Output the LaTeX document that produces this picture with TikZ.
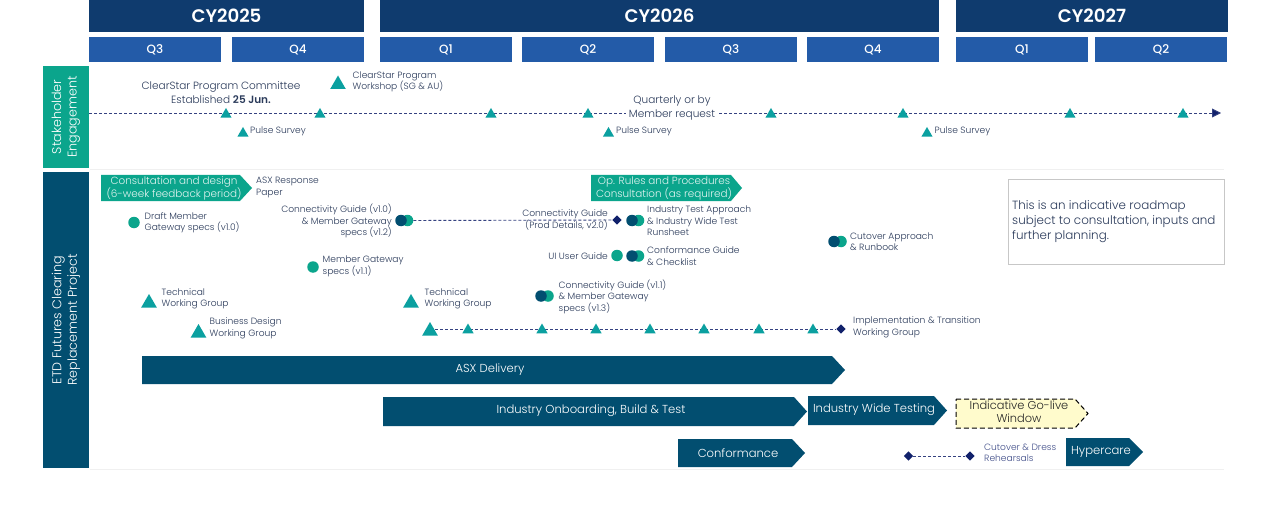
\documentclass[tikz,border=0pt]{standalone}
\usepackage{fontspec}
\setmainfont{Poppins}[UprightFont=* Light,BoldFont=* SemiBold]
\newfontfamily\headfont{Poppins}[UprightFont=* Medium,BoldFont=* SemiBold]
\usetikzlibrary{shapes.geometric,arrows.meta}
\definecolor{cyblue}{HTML}{0F3B6E}
\definecolor{qblue}{HTML}{235BA8}
\definecolor{tealg}{HTML}{0BA58C}
\definecolor{tealt}{HTML}{0BA0A0}
\definecolor{petrol}{HTML}{024E70}
\definecolor{inkc}{HTML}{2A3A5A}
\definecolor{navyd}{HTML}{11216B}
\definecolor{golive}{HTML}{FFFBCC}
\tikzset{
 x=1pt,y=-1pt,
 cybox/.style={fill=cyblue,text=white,font=\headfont\fontsize{18.2}{20}\selectfont\bfseries,inner sep=0},
 qbox/.style={fill=qblue,text=white,font=\headfont\fontsize{12}{12}\selectfont,inner sep=0},
 sidebox/.style={text=white,font=\fontsize{12.7}{15.5}\selectfont,align=center,inner sep=0,rotate=90},
 lab/.style={text=inkc,font=\fontsize{9.1}{11.6}\selectfont,align=left,anchor=west,inner sep=0,yshift=-.7pt},
 labr/.style={text=inkc,font=\fontsize{9.1}{11.6}\selectfont,align=right,anchor=east,inner sep=0,yshift=-.7pt},
 labc/.style={text=inkc,font=\fontsize{10.5}{13.3}\selectfont,align=center,inner sep=0},
 tri/.style={regular polygon,regular polygon sides=3,fill=tealt,inner sep=0,minimum size=#1},
 tri/.default=13,
 bigtri/.style={tri=18},
 dot/.style={circle,fill=tealg,inner sep=0,minimum size=11.5},
 dotd/.style={circle,fill=petrol,inner sep=0,minimum size=11.5},
 dia/.style={diamond,fill=navyd,inner sep=0,minimum size=9.5},
 dline/.style={draw=navyd!85!white,line width=.9pt,dash pattern=on 3pt off 2pt},
 barlab/.style={text=white,font=\fontsize{11.6}{13}\selectfont,align=center,inner sep=0,yshift=-1pt},
 conlab/.style={text=white!88!tealg,font=\fontsize{10.4}{13}\selectfont,align=center,inner sep=0,yshift=-1.5pt},
}
% name, x1, shoulder, tip, y1, y2, path options
\newcommand{\bararrow}[7]{\path[#7] (#2,#5) -- (#3,#5) -- (#4,{(#5+#6)/2}) -- (#3,#6) -- (#2,#6) -- cycle;
 \coordinate (#1) at ({(#2+#3)/2},{(#5+#6)/2});}
\newcommand{\rectnode}[7]{\node[#6,minimum width=#4-#2,minimum height=#5-#3] (#1) at ({(#2+#4)/2},{(#3+#5)/2}) {#7};}
\begin{document}
\begin{tikzpicture}
\useasboundingbox[fill=white] (0,0) rectangle (1280,516);
% headers
\rectnode{cya}{89}{0}{364}{32}{cybox}{CY2025}
\rectnode{cyb}{380}{0}{939}{32}{cybox}{CY2026}
\rectnode{cyc}{956}{0}{1228}{32}{cybox}{CY2027}
\rectnode{qa}{89}{37}{221}{62}{qbox}{Q3}
\rectnode{qb}{232}{37}{364}{62}{qbox}{Q4}
\rectnode{qc}{380}{37}{512}{62}{qbox}{Q1}
\rectnode{qd}{522}{37}{654}{62}{qbox}{Q2}
\rectnode{qe}{665}{37}{797}{62}{qbox}{Q3}
\rectnode{qf}{807}{37}{939}{62}{qbox}{Q4}
\rectnode{qg}{956}{37}{1088}{62}{qbox}{Q1}
\rectnode{qh}{1095}{37}{1227}{62}{qbox}{Q2}
% side boxes
\fill[tealg] (43,66) rectangle (89,168);
\fill[petrol] (43,172) rectangle (89,468);
\node[sidebox] (sideA) at (66,117) {Stakeholder\\Engagement};
\node[sidebox] (sideB) at (66,320) {ETD Futures Clearing\\Replacement Project};
% separators
\draw[black!6,line width=1.2pt] (90,169.5) -- (1224,169.5);
\draw[black!6,line width=1.2pt] (90,469.5) -- (1224,469.5);
% stakeholder line
\coordinate (sA) at (89,113);
\coordinate (sB) at (1221,113);
\draw[dline,-{Triangle[length=9pt,width=9pt,fill=navyd]}] (sA) -- (sB);
\node[labc,fill=white,inner xsep=3pt,inner ysep=0pt] (quarterly) at (672,108) {Quarterly or by\\Member request};
\foreach \n/\x in {a/226,b/320,c/491,d/588,e/771,f/903,g/1070,h/1183}
  \node[tri] (st\n) at (\x,114.5) {};
\node[labc] (committee) at (221,92.5) {ClearStar Program Committee\\Established \textbf{25 Jun.}};
\node[bigtri] (wsT) at (338,84.5) {};
\node[lab] (wsL) at (352.5,81) {ClearStar Program\\Workshop (SG \& AU)};
\node[tri] (psA) at (243,133.5) {};
\node[lab] (psAl) at (250,131) {Pulse Survey};
\node[tri] (psB) at (608.5,133.5) {};
\node[lab] (psBl) at (616,131) {Pulse Survey};
\node[tri] (psC) at (927,133.5) {};
\node[lab] (psCl) at (934.5,131) {Pulse Survey};
% consultation arrows
\bararrow{conA}{101}{240}{252}{175}{201}{fill=tealg}
\node[conlab] (conAl) at (174,187) {Consultation and design\\(6-week feedback period)};
\bararrow{conB}{591}{731}{742}{175}{201}{fill=tealg}
\node[conlab] (conBl) at (664,187) {Op. Rules and Procedures\\Consultation (as required)};
\node[lab] (asx) at (256,186.5) {ASX Response\\Paper};
% deliverables
\node[dot] (draft) at (134,222.5) {};
\node[lab] (draftl) at (144.5,222) {Draft Member\\Gateway specs (v1.0)};
\node[labr] (cg10) at (392,220.5) {Connectivity Guide (v1.0)\\\& Member Gateway\\specs (v1.2)};
\node[dot] (cgB) at (407.5,220.5) {};
\node[dotd] (cgA) at (401,220.5) {};
\node[dia] (cgD) at (617,220) {};
\draw[dline] (cgB) -- (cgD);
\node[labr] (cgP) at (608,219) {Connectivity Guide\\(Prod Details, v2.0)};
\node[dot] (itB) at (638.5,220.5) {};
\node[dotd] (itA) at (632,220.5) {};
\node[lab] (itl) at (647,220) {Industry Test Approach\\\& Industry Wide Test\\Runsheet};
\node[labr] (ui) at (608,255) {UI User Guide};
\node[dot] (uiD) at (617,255.5) {};
\node[dot] (cfB) at (638.5,256) {};
\node[dotd] (cfA) at (632,256) {};
\node[lab] (cfl) at (647,255.5) {Conformance Guide\\\& Checklist};
\node[dot] (mg) at (313,267) {};
\node[lab] (mgl) at (322.5,265.5) {Member Gateway\\specs (v1.1)};
\node[dot] (c11B) at (548,296) {};
\node[dotd] (c11A) at (541,296) {};
\node[lab] (c11l) at (558.5,296) {Connectivity Guide (v1.1)\\\& Member Gateway\\specs (v1.3)};
\node[dot] (cutB) at (841,241.5) {};
\node[dotd] (cutA) at (834,241.5) {};
\node[lab] (cutl) at (850,241) {Cutover Approach\\\& Runbook};
\node[bigtri] (twA) at (149,303) {};
\node[lab] (twAl) at (161.5,298) {Technical\\Working Group};
\node[bigtri] (bd) at (198.5,333) {};
\node[lab] (bdl) at (209.5,327.5) {Business Design\\Working Group};
\node[bigtri] (twB) at (411,303) {};
\node[lab] (twBl) at (424.5,298) {Technical\\Working Group};
% implementation line
\node[dia] (imE) at (841,329) {};
\coordinate (imC) at (430,329);
\draw[dline] (imC) -- (imE);
\node[bigtri] (imS) at (430,331) {};
\foreach \n/\x in {a/468,b/542,c/596,d/650,e/704,f/759,g/813}
  \node[tri] (im\n) at (\x,330) {};
\node[lab] (iml) at (853,326.5) {Implementation \& Transition\\Working Group};
% note
\node[draw=black!22,line width=.8pt,minimum width=216,minimum height=85,inner sep=0] (noteb) at (1116,221.5) {};
\node[text=inkc,font=\fontsize{11.9}{15}\selectfont,align=left,anchor=west,inner sep=0] (notet) at (1012,222) {This is an indicative roadmap\\subject to consultation, inputs and\\further planning.};
% bars
\bararrow{asxb}{142}{832}{845}{356}{384}{fill=petrol}
\node[barlab] (asxl) at (490,368.5) {ASX Delivery};
\bararrow{onb}{383}{794}{807}{397}{426}{fill=petrol}
\node[barlab] (onl) at (591,410) {Industry Onboarding, Build \& Test};
\bararrow{iwt}{808}{934}{947}{396}{425}{fill=petrol}
\node[barlab] (iwtl) at (874,409) {Industry Wide Testing};
\bararrow{conf}{678}{792}{805}{439}{467}{fill=petrol}
\node[barlab] (confl) at (738,452) {Conformance};
\bararrow{hyp}{1066}{1129}{1143}{438}{466}{fill=petrol}
\node[barlab] (hypl) at (1101,451) {Hypercare};
\bararrow{gol}{956}{1075}{1088}{399}{428}{fill=golive,draw=black,line width=1pt,dash pattern=on 5pt off 3pt}
\node[text=black!85,font=\fontsize{11.4}{13.5}\selectfont,align=center,inner sep=0] (goll) at (1019,412) {Indicative Go-live\\Window};
% rehearsals
\node[dia] (reA) at (908.5,456) {};
\node[dia] (reB) at (970,456) {};
\draw[dline] (reA) -- (reB);
\node[lab,text=navyd!80!white] (rel) at (984,452) {Cutover \& Dress\\Rehearsals};
\end{tikzpicture}
\end{document}
